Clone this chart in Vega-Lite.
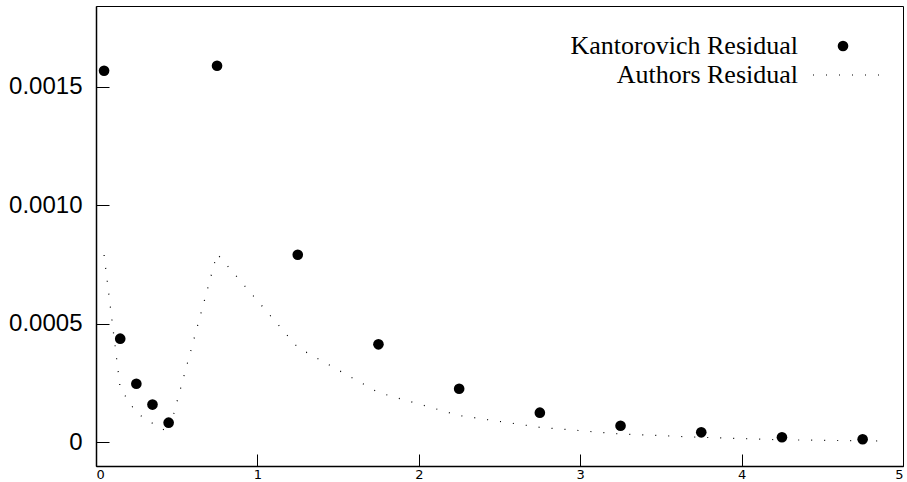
{
  "$schema": "https://vega.github.io/schema/vega-lite/v6.json",
  "autosize": {"type": "none"},
  "width": 807,
  "height": 460,
  "padding": {"left": 96, "top": 6, "right": 4, "bottom": 16},
  "background": "white",
  "config": {
    "view": {"stroke": "black", "strokeWidth": 1},
    "axis": {"grid": false, "domainColor": "black", "domainWidth": 1.5, "tickColor": "black", "tickWidth": 1, "labelColor": "black", "labelFont": "Liberation Sans"}
  },
  "datasets": {
    "kant": [
      {"x": 0.05, "value": 0.001567},
      {"x": 0.15, "value": 0.000437},
      {"x": 0.25, "value": 0.000247},
      {"x": 0.35, "value": 0.000159},
      {"x": 0.45, "value": 0.0000827},
      {"x": 0.75, "value": 0.001588},
      {"x": 1.25, "value": 0.000791},
      {"x": 1.75, "value": 0.000413},
      {"x": 2.25, "value": 0.000226},
      {"x": 2.75, "value": 0.000125},
      {"x": 3.25, "value": 0.00007},
      {"x": 3.75, "value": 0.000042},
      {"x": 4.25, "value": 0.000021},
      {"x": 4.75, "value": 0.0000126}
    ],
    "authors": [
      {"x": 0.05, "value": 0.00079},
      {"x": 0.15, "value": 0.000228},
      {"x": 0.25, "value": 0.000124},
      {"x": 0.35, "value": 0.00008},
      {"x": 0.45, "value": 0.000041},
      {"x": 0.75, "value": 0.000795},
      {"x": 1.25, "value": 0.0004},
      {"x": 1.75, "value": 0.00021},
      {"x": 2.25, "value": 0.000113},
      {"x": 2.75, "value": 0.000063},
      {"x": 3.25, "value": 0.000035},
      {"x": 3.75, "value": 0.000021},
      {"x": 4.25, "value": 0.0000105},
      {"x": 4.75, "value": 0.0000063},
      {"x": 4.9, "value": 0.000005}
    ]
  },
  "encoding": {
    "x": {
      "field": "x", "type": "quantitative",
      "scale": {"domain": [0, 5], "nice": false, "zero": false},
      "axis": {"title": null, "values": [0, 1, 2, 3, 4, 5], "format": "d", "tickSize": -12, "labelFontSize": 13, "labelPadding": 14, "labelFont": "DejaVu Sans"}
    },
    "y": {
      "field": "value", "type": "quantitative",
      "scale": {"domain": [-0.0001, 0.00184], "nice": false, "zero": false},
      "axis": {"title": null, "values": [0, 0.0005, 0.001, 0.0015], "labelExpr": "datum.value == 0 ? '0' : format(datum.value, '.4f')", "tickSize": -13, "labelFontSize": 24, "labelPadding": 27}
    }
  },
  "layer": [
    {
      "data": {"name": "authors"},
      "mark": {"type": "line", "color": "black", "strokeWidth": 1.2, "strokeCap": "butt"},
      "encoding": {
        "strokeDash": {
          "datum": "Authors Residual",
          "scale": {"range": [[1, 12]]},
          "legend": {
            "title": null, "orient": "none", "legendX": 716, "legendY": 35, "padding": 0,
            "symbolType": "stroke", "symbolSize": 4356, "symbolStrokeColor": "black", "symbolStrokeWidth": 1.2, "symbolDash": [1, 10],
            "labelFont": "Liberation Serif", "labelFontSize": 26, "labelColor": "black", "labelAlign": "right", "labelOffset": -82, "labelLimit": 400
          }
        }
      }
    },
    {
      "data": {"name": "kant"},
      "mark": {"type": "point", "filled": true, "shape": "circle", "size": 113, "opacity": 1},
      "encoding": {
        "color": {
          "datum": "Kantorovich Residual",
          "scale": {"range": ["black"]},
          "legend": {
            "title": null, "orient": "none", "legendX": 734, "legendY": 27, "padding": 0,
            "symbolType": "circle", "symbolSize": 113, "symbolFillColor": "black", "symbolStrokeWidth": 0, "symbolOpacity": 1,
            "labelFont": "Liberation Serif", "labelFontSize": 26, "labelColor": "black", "labelAlign": "right", "labelOffset": -58, "labelLimit": 400
          }
        }
      }
    }
  ]
}
